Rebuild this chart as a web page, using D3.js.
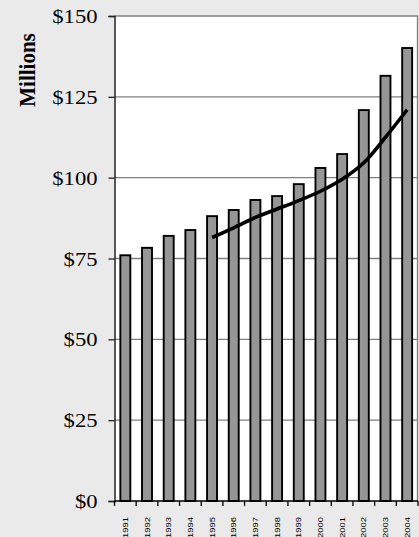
<!DOCTYPE html>
<html><head><meta charset="utf-8">
<script src="https://cdn.jsdelivr.net/npm/d3@7/dist/d3.min.js"></script>
<style>html,body{margin:0;padding:0;background:#eaeaea;}svg{display:block;}</style>
</head><body>
<svg id="c" width="419" height="537"></svg>
<script>
const years = ["1991","1992","1993","1994","1995","1996","1997","1998","1999","2000","2001","2002","2003","2004"];
const values = [76, 78.3, 82, 83.8, 88.1, 90, 93.1, 94.3, 98, 103, 107.3, 120.9, 131.5, 140.1];
const trendYears = ["1995","1996","1997","1998","1999","2000","2001","2002","2003","2004"];
const trendValues = [81.5, 84.5, 87.7, 90.3, 92.9, 95.8, 99.5, 104.6, 112.5, 121];
const yTicks = [0, 25, 50, 75, 100, 125, 150];
const yTickLabels = ["$0","$25","$50","$75","$100","$125","$150"];
const yTitle = "Millions";

const svg = d3.select("#c");
const L = 114.5, R = 418, T = 16, B = 501;
const x = d3.scaleBand().domain(years).range([L, R]).paddingInner(0.54).paddingOuter(0.27);
const y = d3.scaleLinear().domain([0, 150]).range([B, T]);
const step = x.step();

svg.append("rect").attr("x", L).attr("y", T).attr("width", R - L).attr("height", B - T).attr("fill", "#fff");

// gridlines
svg.append("g").selectAll("line").data(yTicks.filter(d => d > 0)).join("line")
  .attr("x1", L).attr("x2", R).attr("y1", d => y(d)).attr("y2", d => y(d))
  .attr("stroke", "#7f7f7f").attr("stroke-width", 1.3);
// right border
svg.append("line").attr("x1", R - 0.5).attr("x2", R - 0.5).attr("y1", T).attr("y2", B)
  .attr("stroke", "#7f7f7f").attr("stroke-width", 1.3);

// bars
svg.append("g").selectAll("rect").data(years).join("rect")
  .attr("x", d => x(d)).attr("width", x.bandwidth())
  .attr("y", (d, i) => y(values[i])).attr("height", (d, i) => B - y(values[i]))
  .attr("fill", "#969696").attr("stroke", "#000").attr("stroke-width", 1.9);

// trend line
const line = d3.line().x((d, i) => x(trendYears[i]) + x.bandwidth() / 2).y(d => y(d)).curve(d3.curveMonotoneX);
svg.append("path").datum(trendValues).attr("d", line).attr("fill", "none")
  .attr("stroke", "#000").attr("stroke-width", 3.6).attr("stroke-linecap", "butt");

// y axis
const yAxis = svg.append("g").attr("transform", `translate(${L},0)`)
  .call(d3.axisLeft(y).tickValues(yTicks).tickSize(6).tickFormat((d, i) => yTickLabels[i]));
yAxis.select(".domain").attr("stroke", "#222").attr("stroke-width", 1.5);
yAxis.selectAll(".tick line").attr("stroke", "#222").attr("stroke-width", 1.3);
yAxis.selectAll(".tick text").attr("font-family", "Liberation Serif, Times New Roman, serif")
  .attr("font-size", 19.5).attr("fill", "#000").attr("x", 0).attr("dy", "0.34em")
  .attr("transform", "translate(-17,0) scale(1.16,1)");

// x axis
svg.append("line").attr("x1", L).attr("x2", R).attr("y1", B).attr("y2", B).attr("stroke", "#000").attr("stroke-width", 1.5);
const bounds = d3.range(years.length + 1).map(i => L + i * step);
svg.append("g").selectAll("line").data(bounds).join("line")
  .attr("x1", d => d).attr("x2", d => d).attr("y1", B).attr("y2", B + 5)
  .attr("stroke", "#000").attr("stroke-width", 1.3);
svg.append("g").selectAll("text").data(years).join("text")
  .attr("transform", d => `translate(${x(d) + x.bandwidth() / 2},517) rotate(-90) scale(1,0.8)`)
  .attr("text-anchor", "end").attr("dy", "0.35em")
  .attr("font-family", "Liberation Sans, Arial, sans-serif").attr("font-size", 9.4).attr("fill", "#000")
  .text(d => d);

// y title
svg.append("text").attr("transform", "translate(27,70) rotate(-90) scale(1,1.1)")
  .attr("text-anchor", "middle").attr("dy", "0.35em")
  .attr("font-family", "Liberation Serif, Times New Roman, serif").attr("font-weight", "bold")
  .attr("font-size", 21).attr("fill", "#000").text(yTitle);
</script>
</body></html>
